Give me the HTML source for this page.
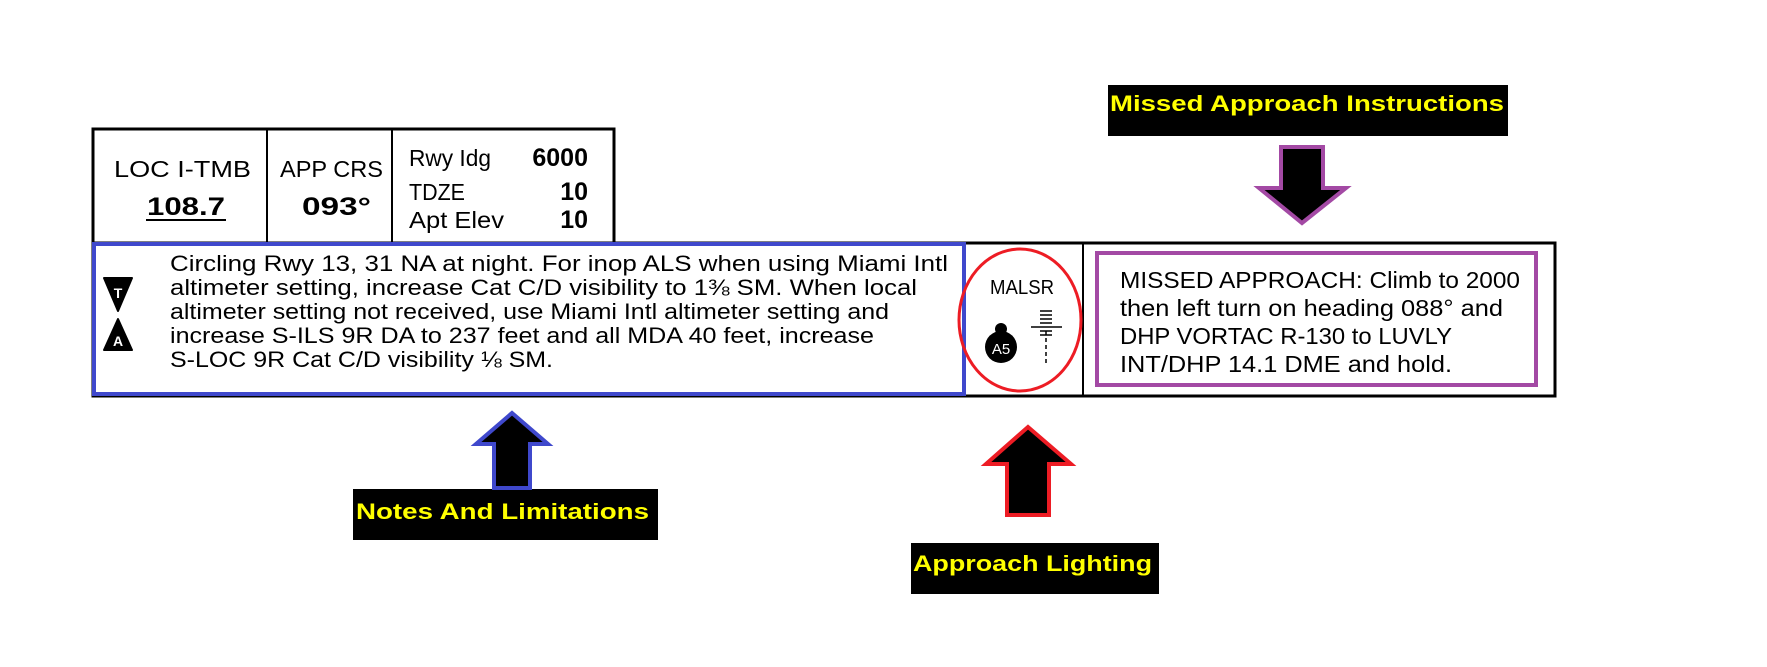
<!DOCTYPE html>
<html><head><meta charset="utf-8"><style>html,body{margin:0;padding:0;background:#fff}svg{display:block}</style></head>
<body>
<svg width="1767" height="667" viewBox="0 0 1767 667" xmlns="http://www.w3.org/2000/svg" font-family="'Liberation Sans', sans-serif">
<rect x="93" y="129" width="521" height="115" fill="#fff" stroke="#000" stroke-width="3"/>
<line x1="267" y1="129" x2="267" y2="244" stroke="#000" stroke-width="2"/>
<line x1="392" y1="129" x2="392" y2="244" stroke="#000" stroke-width="2"/>
<g font-size="23" fill="#000">
<text x="114" y="177" textLength="137" lengthAdjust="spacingAndGlyphs">LOC  I-TMB</text>
<text x="147" y="215" font-weight="bold" font-size="25" textLength="78" lengthAdjust="spacingAndGlyphs">108.7</text>
<line x1="146" y1="220" x2="226" y2="220" stroke="#000" stroke-width="2"/>
<text x="280" y="177" textLength="103" lengthAdjust="spacingAndGlyphs">APP CRS</text>
<text x="302" y="215" font-weight="bold" font-size="25" textLength="69" lengthAdjust="spacingAndGlyphs">093°</text>
<text x="409" y="166" textLength="82" lengthAdjust="spacingAndGlyphs">Rwy Idg</text>
<text x="409" y="200" textLength="56" lengthAdjust="spacingAndGlyphs">TDZE</text>
<text x="409" y="228" textLength="95" lengthAdjust="spacingAndGlyphs">Apt Elev</text>
<g font-weight="bold" font-size="25" text-anchor="end">
<text x="588" y="166">6000</text>
<text x="588" y="200">10</text>
<text x="588" y="228">10</text>
</g>
</g>
<rect x="93" y="243" width="1462" height="153" fill="#fff" stroke="#000" stroke-width="3"/>
<line x1="1083" y1="243" x2="1083" y2="396" stroke="#000" stroke-width="2"/>
<rect x="94" y="244" width="870" height="150" fill="none" stroke="#3f48cc" stroke-width="4"/>
<path d="M104 278 L132 278 L118 311 Z" fill="#000" stroke="#000" stroke-width="2" stroke-linejoin="round"/>
<text x="118" y="298" font-size="14" font-weight="bold" fill="#fff" text-anchor="middle">T</text>
<path d="M118 319 L132 350 L104 350 Z" fill="#000" stroke="#000" stroke-width="2" stroke-linejoin="round"/>
<text x="118" y="346" font-size="14" font-weight="bold" fill="#fff" text-anchor="middle">A</text>
<g font-size="22" fill="#000">
<text x="170" y="271" textLength="778" lengthAdjust="spacingAndGlyphs">Circling Rwy 13, 31 NA at night.  For inop ALS when using Miami Intl</text>
<text x="170" y="295" textLength="747" lengthAdjust="spacingAndGlyphs">altimeter setting, increase Cat C/D visibility to 1⅜ SM.  When local</text>
<text x="170" y="319" textLength="719" lengthAdjust="spacingAndGlyphs">altimeter setting not received, use Miami Intl altimeter setting and</text>
<text x="170" y="343" textLength="704" lengthAdjust="spacingAndGlyphs">increase S-ILS 9R DA to 237 feet and all MDA 40 feet, increase</text>
<text x="170" y="367" textLength="383" lengthAdjust="spacingAndGlyphs">S-LOC 9R Cat C/D visibility ⅛ SM.</text>
</g>
<text x="1022" y="294" font-size="20" text-anchor="middle" textLength="64" lengthAdjust="spacingAndGlyphs">MALSR</text>
<circle cx="1001" cy="329" r="6" fill="#000"/>
<circle cx="1001" cy="347" r="16" fill="#000"/>
<text x="1001" y="354" font-size="15" fill="#fff" text-anchor="middle">A5</text>
<g stroke="#000" stroke-width="1.5">
<line x1="1040" y1="311" x2="1052" y2="311"/><line x1="1040" y1="315" x2="1052" y2="315"/>
<line x1="1040" y1="319" x2="1052" y2="319"/><line x1="1040" y1="323" x2="1052" y2="323"/>
<line x1="1031" y1="327" x2="1062" y2="327"/><line x1="1040" y1="331" x2="1052" y2="331"/>
<line x1="1040" y1="335" x2="1052" y2="335"/>
<line x1="1046" y1="331" x2="1046" y2="363" stroke-dasharray="4,3"/>
</g>
<ellipse cx="1020" cy="320" rx="61" ry="71" fill="none" stroke="#ed1c24" stroke-width="3"/>
<rect x="1097" y="253" width="439" height="132" fill="none" stroke="#a349a4" stroke-width="4"/>
<g font-size="23" fill="#000">
<text x="1120" y="288" textLength="400" lengthAdjust="spacingAndGlyphs">MISSED APPROACH: Climb to 2000</text>
<text x="1120" y="316" textLength="383" lengthAdjust="spacingAndGlyphs">then left turn on heading 088° and</text>
<text x="1120" y="344" textLength="332" lengthAdjust="spacingAndGlyphs">DHP VORTAC R-130 to LUVLY</text>
<text x="1120" y="372" textLength="332" lengthAdjust="spacingAndGlyphs">INT/DHP 14.1 DME and hold.</text>
</g>
<rect x="1108" y="85" width="400" height="51" fill="#000"/>
<text x="1110" y="111" font-size="22" font-weight="bold" fill="#ffff00" textLength="394" lengthAdjust="spacingAndGlyphs">Missed Approach Instructions</text>
<rect x="353" y="489" width="305" height="51" fill="#000"/>
<text x="356" y="519" font-size="22" font-weight="bold" fill="#ffff00" textLength="293" lengthAdjust="spacingAndGlyphs">Notes And Limitations</text>
<rect x="911" y="543" width="248" height="51" fill="#000"/>
<text x="913" y="571" font-size="22" font-weight="bold" fill="#ffff00" textLength="239" lengthAdjust="spacingAndGlyphs">Approach Lighting</text>
<path d="M1281 147 L1323 147 L1323 188 L1346 188 L1302 223 L1259 188 L1281 188 Z" fill="#000" stroke="#a349a4" stroke-width="4"/>
<path d="M512 413 L548 444 L530 444 L530 488 L494 488 L494 444 L476 444 Z" fill="#000" stroke="#3f48cc" stroke-width="4"/>
<path d="M1028 427 L1071 464 L1049 464 L1049 515 L1007 515 L1007 464 L986 464 Z" fill="#000" stroke="#ed1c24" stroke-width="4"/>
</svg>
</body></html>
